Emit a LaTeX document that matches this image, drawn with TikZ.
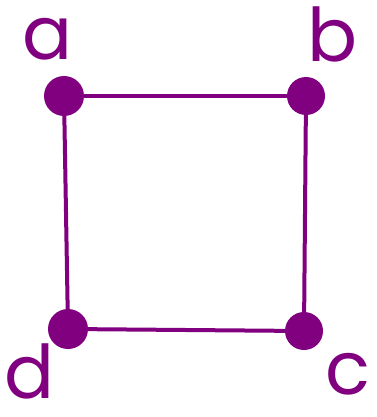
\documentclass[tikz,border=0pt]{standalone}
\usepackage{fontspec}
\newfontfamily\handfont{Poppins}
\usetikzlibrary{positioning}
\definecolor{vertexpurple}{HTML}{800080}

\begin{document}
\begin{tikzpicture}[x=1pt, y=-1pt,
    vertex/.style={circle, fill=vertexpurple, inner sep=0pt, minimum size=40pt},
    vlabel/.style={text=vertexpurple, inner sep=0pt, text depth=0pt, font=\handfont\fontsize{74}{74}\selectfont},
    edge/.style={draw=vertexpurple, line width=4pt}]
    \useasboundingbox (0, 0) rectangle (376, 417);

    % vertices
    \node[vertex] (a) at (64, 96) {};
    \node[vertex, minimum size=38pt] (b) at (306, 96) {};
    \node[vertex, minimum size=38pt] (c) at (304, 331) {};
    \node[vertex] (d) at (68, 329) {};

    % labels
    \node[vlabel, anchor=base] (la) at (48, 60) {a};
    \node[vlabel, anchor=base] (lb) at (333, 62) {b};
    \node[vlabel, anchor=base] (lc) at (348, 394) {c};
    \node[vlabel, anchor=base] (ld) at (30, 398) {d};

    % edges
    \draw[edge] (a) -- (b);
    \draw[edge] (b) -- (c);
    \draw[edge] (c) -- (d);
    \draw[edge] (d) -- (a);
\end{tikzpicture}
\end{document}
